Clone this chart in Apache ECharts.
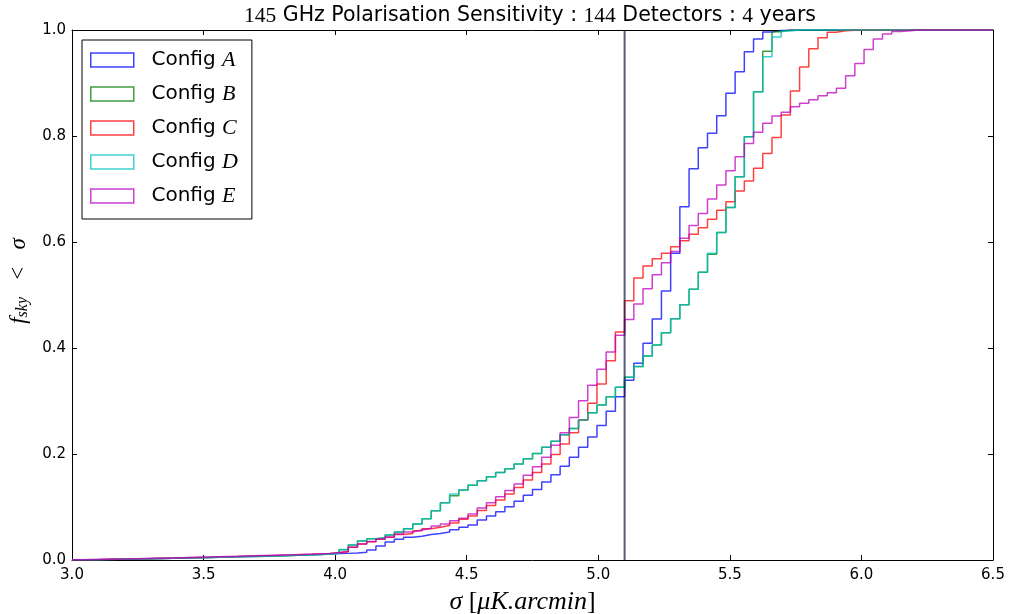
<!DOCTYPE html>
<html>
<head>
<meta charset="utf-8">
<script src="https://cdn.jsdelivr.net/npm/echarts@6/dist/echarts.min.js"></script>
<style>
  html, body { margin: 0; padding: 0; background: #fff; }
  #chart { width: 1012px; height: 614px; }
</style>
</head>
<body>
<div id="chart"></div>
<script>
// cumulative step histograms, 100 bins of width 0.035 starting at 3.0
const binStart = 3.0
const binWidth = 0.035
const xEnd = 6.5
const cutoff = 5.1

const names = ["Config A", "Config B", "Config C", "Config D", "Config E"]
const colors = ["#0000ff", "#008000", "#ff0000", "#00bfbf", "#bf00bf"]
const legendColors = ["#4040ff", "#40a040", "#ff4040", "#40cfcf", "#cf40cf"]

const configA = [
  0.0004, 0.0006, 0.0008, 0.0010, 0.0013, 0.0016, 0.0019, 0.0022, 0.0026, 0.0030,
  0.0033, 0.0037, 0.0041, 0.0045, 0.0049, 0.0053, 0.0057, 0.0061, 0.0065, 0.0069,
  0.0073, 0.0078, 0.0083, 0.0088, 0.0093, 0.0099, 0.0105, 0.0112, 0.0122, 0.0125,
  0.013, 0.0145, 0.019, 0.0264, 0.034, 0.039, 0.043, 0.045, 0.048, 0.050,
  0.053, 0.057, 0.062, 0.066, 0.0755, 0.083, 0.091, 0.1006, 0.111, 0.122,
  0.133, 0.147, 0.161, 0.177, 0.194, 0.2126, 0.232, 0.254, 0.2805, 0.308,
  0.339, 0.371, 0.409, 0.4547, 0.5075, 0.5786, 0.6667, 0.738, 0.778, 0.805,
  0.838, 0.8805, 0.921, 0.959, 0.983, 0.996, 0.999, 1, 1, 1,
  1, 1, 1, 1, 1, 1, 1, 1, 1, 1,
  1, 1, 1, 1, 1, 1, 1, 1, 1, 1
]
const configB = [
  0.0003, 0.0005, 0.0007, 0.0009, 0.0012, 0.0015, 0.0018, 0.0021, 0.0025, 0.0029,
  0.0032, 0.0036, 0.0040, 0.0044, 0.0048, 0.0052, 0.0056, 0.0060, 0.0064, 0.0068,
  0.0072, 0.0077, 0.0082, 0.0087, 0.0092, 0.0098, 0.0104, 0.0111, 0.0126, 0.0195,
  0.0283, 0.0358, 0.040, 0.042, 0.047, 0.0528, 0.059, 0.068, 0.078, 0.093,
  0.108, 0.121, 0.132, 0.141, 0.1497, 0.157, 0.165, 0.172, 0.181, 0.191,
  0.201, 0.2126, 0.224, 0.2365, 0.248, 0.264, 0.278, 0.2925, 0.308, 0.326,
  0.3447, 0.365, 0.385, 0.4057, 0.429, 0.455, 0.4817, 0.511, 0.543, 0.577,
  0.618, 0.665, 0.723, 0.7987, 0.8836, 0.960, 0.9968, 1, 1, 1,
  1, 1, 1, 1, 1, 1, 1, 1, 1, 1,
  1, 1, 1, 1, 1, 1, 1, 1, 1, 1
]
const configC = [
  0.0005, 0.0007, 0.0009, 0.0012, 0.0015, 0.0018, 0.0021, 0.0025, 0.0029, 0.0033,
  0.0037, 0.0041, 0.0045, 0.0049, 0.0053, 0.0058, 0.0062, 0.0067, 0.0071, 0.0076,
  0.0081, 0.0086, 0.0091, 0.0096, 0.0102, 0.0108, 0.0115, 0.0122, 0.0138, 0.0157,
  0.024, 0.030, 0.0346, 0.039, 0.043, 0.048, 0.050, 0.055, 0.059, 0.062,
  0.065, 0.070, 0.077, 0.083, 0.0935, 0.103, 0.113, 0.1245, 0.137, 0.151,
  0.165, 0.181, 0.199, 0.219, 0.240, 0.264, 0.2956, 0.332, 0.376, 0.430,
  0.489, 0.532, 0.5547, 0.5685, 0.579, 0.591, 0.6025, 0.6145, 0.627, 0.643,
  0.660, 0.676, 0.696, 0.715, 0.739, 0.767, 0.797, 0.8396, 0.885, 0.930,
  0.9645, 0.9855, 0.9956, 0.9987, 0.9995, 0.9995, 0.9995, 0.9996, 0.9997, 0.9998,
  0.9999, 1, 1, 1, 1, 1, 1, 1, 1, 1
]
const configD = [
  0.0003, 0.0005, 0.0007, 0.0009, 0.0012, 0.0015, 0.0018, 0.0021, 0.0025, 0.0029,
  0.0032, 0.0036, 0.0040, 0.0044, 0.0048, 0.0052, 0.0056, 0.0060, 0.0064, 0.0068,
  0.0072, 0.0077, 0.0082, 0.0087, 0.0092, 0.0098, 0.0104, 0.0111, 0.0126, 0.020,
  0.0283, 0.0358, 0.040, 0.042, 0.047, 0.0528, 0.059, 0.068, 0.078, 0.093,
  0.108, 0.1245, 0.132, 0.141, 0.1497, 0.157, 0.165, 0.172, 0.181, 0.191,
  0.201, 0.2126, 0.224, 0.2365, 0.248, 0.264, 0.278, 0.2925, 0.308, 0.326,
  0.3447, 0.365, 0.385, 0.4057, 0.429, 0.455, 0.4817, 0.511, 0.543, 0.579,
  0.618, 0.665, 0.723, 0.7987, 0.8836, 0.9497, 0.987, 0.998, 1, 1,
  1, 1, 1, 1, 1, 1, 1, 1, 1, 1,
  1, 1, 1, 1, 1, 1, 1, 1, 1, 1
]
const configE = [
  0.0005, 0.0008, 0.0010, 0.0013, 0.0016, 0.0019, 0.0023, 0.0027, 0.0031, 0.0035,
  0.0039, 0.0043, 0.0047, 0.0051, 0.0055, 0.0060, 0.0065, 0.0069, 0.0074, 0.0079,
  0.0084, 0.0089, 0.0094, 0.0099, 0.0105, 0.0111, 0.0118, 0.0125, 0.014, 0.016,
  0.024, 0.030, 0.035, 0.0395, 0.0435, 0.049, 0.053, 0.0566, 0.060, 0.064,
  0.068, 0.074, 0.079, 0.087, 0.098, 0.108, 0.1195, 0.131, 0.1434, 0.160,
  0.176, 0.194, 0.2164, 0.240, 0.269, 0.3006, 0.3296, 0.360, 0.3925, 0.424,
  0.454, 0.483, 0.512, 0.538, 0.561, 0.582, 0.607, 0.631, 0.654, 0.681,
  0.7075, 0.7346, 0.761, 0.786, 0.807, 0.824, 0.8377, 0.8447, 0.855, 0.862,
  0.8685, 0.876, 0.8817, 0.890, 0.9138, 0.937, 0.963, 0.983, 0.9925, 0.997,
  0.9987, 1, 1, 1, 1, 1, 1, 1, 1, 1
]
const allValues = [configA, configB, configC, configD, configE]

const serif = "Liberation Serif"
const sans = "DejaVu Sans"

function stepData(vals) {
  const pts = vals.map((v, i) => [+(binStart + i * binWidth).toFixed(4), v])
  pts.push([xEnd, vals[vals.length - 1]])
  return pts
}

const chart = echarts.init(document.getElementById("chart"), null, { renderer: "canvas" })

const axisLine = { show: true, onZero: false, lineStyle: { color: "#000", width: 1 } }
const tick = { show: true, inside: true, length: 5, lineStyle: { color: "#000" } }

const series = allValues.map((vals, i) => ({
  name: names[i],
  type: "line",
  step: "end",
  data: stepData(vals),
  showSymbol: false,
  symbol: "none",
  silent: true,
  animation: false,
  lineStyle: { color: colors[i], width: 1.5, opacity: 0.75 },
  itemStyle: { color: colors[i] }
}))

series.push({
  name: "cutoff",
  type: "line",
  data: [[cutoff, 0], [cutoff, 1]],
  symbol: "none",
  silent: true,
  animation: false,
  lineStyle: { color: "rgba(20,20,70,0.7)", width: 2 }
})

chart.setOption({
  animation: false,
  backgroundColor: "#fff",
  title: {
    text: "{m|145} GHz Polarisation Sensitivity : {m|144} Detectors : {m|4} years",
    left: 244,
    top: 5,
    padding: 0,
    textStyle: {
      fontFamily: sans, fontSize: 20.5, fontWeight: "normal", color: "#000",
      rich: { m: { fontFamily: serif, fontSize: 21.5, color: "#000" } }
    }
  },
  grid: { left: 72, right: 19, top: 30, bottom: 54, containLabel: false, outerBoundsMode: "none" },
  legend: {
    orient: "vertical",
    left: 82,
    top: 40,
    padding: [9, 14, 12, 8],
    itemWidth: 43,
    itemHeight: 14,
    itemGap: 12,
    backgroundColor: "#fff",
    borderColor: "#000",
    borderWidth: 1,
    borderRadius: 0,
    selectedMode: false,
    data: names.map((n, i) => ({
      name: n,
      icon: "rect",
      itemStyle: { color: "transparent", borderColor: legendColors[i], borderWidth: 1.5, opacity: 1 }
    })),
    formatter: n => "  Config {i|" + n.slice(-1) + "}",
    textStyle: {
      fontFamily: sans, fontSize: 20, color: "#000", lineHeight: 20,
      rich: { i: { fontFamily: serif, fontStyle: "italic", fontSize: 22, lineHeight: 20, color: "#000" } }
    }
  },
  xAxis: [{
    type: "value", min: 3, max: 6.5, interval: 0.5, position: "bottom",
    axisLine, axisTick: tick, splitLine: { show: false },
    axisLabel: { color: "#000", fontFamily: sans, fontSize: 15, margin: 8, formatter: v => v.toFixed(1) },
    name: "{i|σ} [{i|μK.arcmin}]",
    nameLocation: "middle",
    nameGap: 29,
    nameTextStyle: {
      fontFamily: serif, fontSize: 26, color: "#000", padding: [0, 20, 0, 0],
      rich: { i: { fontFamily: serif, fontStyle: "italic", fontSize: 26, color: "#000" } }
    }
  }, {
    type: "value", min: 3, max: 6.5, interval: 0.5, position: "top",
    axisLine, axisTick: tick, splitLine: { show: false }, axisLabel: { show: false }
  }],
  yAxis: [{
    type: "value", min: 0, max: 1, interval: 0.2, position: "left",
    axisLine, axisTick: tick, splitLine: { show: false },
    axisLabel: { color: "#000", fontFamily: sans, fontSize: 15, margin: 6, formatter: v => v.toFixed(1) },
    name: "{f|f}{s|sky}   {n|<}   {i|σ}",
    nameLocation: "middle",
    nameGap: 27,
    nameRotate: 90,
    nameTextStyle: {
      fontFamily: serif, fontSize: 23, color: "#000",
      rich: {
        f: { fontFamily: serif, fontStyle: "italic", fontSize: 23, color: "#000", padding: [0, 0, 0, 28] },
        i: { fontFamily: serif, fontStyle: "italic", fontSize: 23, color: "#000" },
        s: { fontFamily: serif, fontStyle: "italic", fontSize: 16, color: "#000", verticalAlign: "bottom", padding: [9, 0, 0, 0] },
        n: { fontFamily: serif, fontSize: 23, color: "#000" }
      }
    }
  }, {
    type: "value", min: 0, max: 1, interval: 0.2, position: "right",
    axisLine, axisTick: tick, splitLine: { show: false }, axisLabel: { show: false }
  }],
  series
})
</script>
</body>
</html>
